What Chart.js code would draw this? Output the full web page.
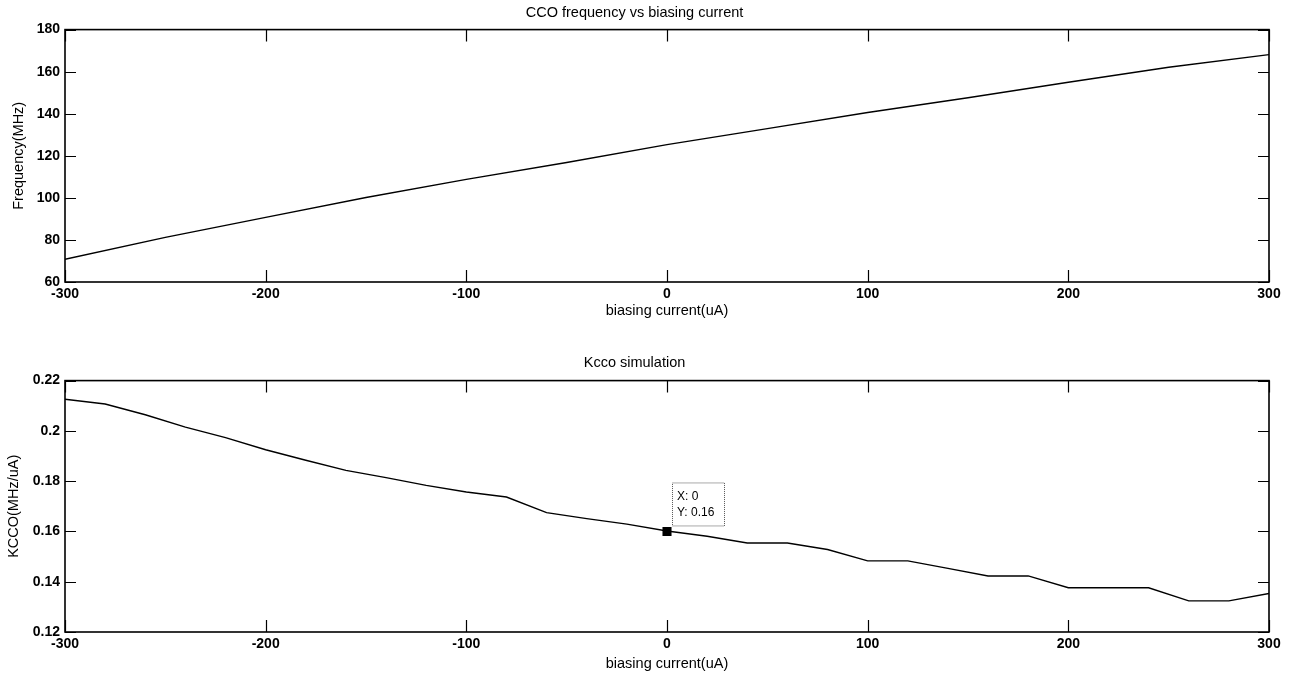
<!DOCTYPE html>
<html>
<head>
<meta charset="utf-8">
<script src="https://cdn.jsdelivr.net/npm/chart.js@4.4.1/dist/chart.umd.min.js"></script>
<style>
  html, body { margin: 0; padding: 0; background: #fff; }
  #top-wrap { position: absolute; left: 0; top: 0; width: 1293px; height: 320px; }
  #bottom-wrap { position: absolute; left: 0; top: 320px; width: 1293px; height: 356px; }
</style>
</head>
<body>
<div id="top-wrap"><canvas id="freq-chart" width="1293" height="320"></canvas></div>
<div id="bottom-wrap"><canvas id="kcco-chart" width="1293" height="356"></canvas></div>
<script>
// biasing current (uA) and CCO frequency (MHz)
const freqCurrent = [-300, -250, -200, -150, -100, -50, 0, 50, 100, 150, 200, 250, 300];
const frequencyMHz = [70.8, 81.2, 90.7, 100.2, 108.8, 116.8, 125.3, 132.9, 140.6, 147.6, 155.0, 162.1, 168.1];

// Kcco simulation (MHz/uA), one point every 20 uA
const kccoCurrent = [-300, -280, -260, -240, -220, -200, -180, -160, -140, -120, -100, -80, -60, -40, -20,
  0, 20, 40, 60, 80, 100, 120, 140, 160, 180, 200, 220, 240, 260, 280, 300];
const kccoValues = [0.2126, 0.2107, 0.2064, 0.2015, 0.1973, 0.1925, 0.1883, 0.1843, 0.1814, 0.1783, 0.1757,
  0.1737, 0.1675, 0.1651, 0.1629, 0.1602, 0.1581, 0.1554, 0.1554, 0.1528, 0.1483, 0.1483, 0.1453, 0.1423,
  0.1423, 0.1376, 0.1376, 0.1376, 0.1324, 0.1324, 0.1353];

// data cursor shown on the lower plot
const datatipX = [0];
const datatipY = [0.16];

// tick labels
const currentTicks = [-300, -200, -100, 0, 100, 200, 300];
const freqTicks = [60, 80, 100, 120, 140, 160, 180];
const kccoTicks = [0.12, 0.14, 0.16, 0.18, 0.2, 0.22];

const FONT = 'Arial, "Liberation Sans", Helvetica, sans-serif';
Chart.defaults.color = '#000';
Chart.defaults.font.family = FONT;
Chart.defaults.font.size = 14;

// MATLAB-like box with inward ticks on all four sides
const matlabAxes = {
  id: 'matlabAxes',
  afterDatasetsDraw(chart) {
    const { ctx, chartArea: a, scales: { x, y } } = chart;
    ctx.save();
    ctx.strokeStyle = '#000';
    ctx.lineWidth = 1.2;
    ctx.beginPath();
    x.ticks.forEach((t) => {
      const px = Math.round(x.getPixelForValue(t.value)) + 0.5;
      ctx.moveTo(px, a.bottom);
      ctx.lineTo(px, a.bottom - 12);
      ctx.moveTo(px, a.top);
      ctx.lineTo(px, a.top + 12);
    });
    y.ticks.forEach((t) => {
      const py = Math.round(y.getPixelForValue(t.value)) + 0.5;
      ctx.moveTo(a.left, py);
      ctx.lineTo(a.left + 11, py);
      ctx.moveTo(a.right, py);
      ctx.lineTo(a.right - 11, py);
    });
    ctx.stroke();
    ctx.lineWidth = 1.6;
    ctx.strokeRect(a.left, a.top, a.right - a.left, a.bottom - a.top);
    ctx.restore();
  }
};

// data tip box next to the marked point
const datatip = {
  id: 'datatip',
  afterDraw(chart) {
    const meta = chart.getDatasetMeta(1);
    if (!meta || !meta.data.length) return;
    const { ctx } = chart;
    const pt = meta.data[0];
    const left = pt.x + 5;
    const top = pt.y - 49;
    ctx.save();
    ctx.fillStyle = '#fff';
    ctx.fillRect(left, top, 52, 43);
    ctx.strokeStyle = '#555';
    ctx.lineWidth = 1;
    ctx.setLineDash([1, 1]);
    ctx.strokeRect(left + 0.5, top + 0.5, 52, 43);
    ctx.setLineDash([]);
    ctx.fillStyle = '#000';
    ctx.font = '12px ' + FONT;
    ctx.textBaseline = 'middle';
    ctx.fillText('X: ' + datatipX[0], left + 5, top + 14);
    ctx.fillText('Y: ' + datatipY[0], left + 5, top + 30);
    ctx.restore();
  }
};

function buildOptions({ title, titlePadding, yLabel, yLabelPad, yMin, yMax, yTicks, xHeight, xTitlePad, fmt }) {
  return {
    responsive: false,
    animation: false,
    layout: { padding: { left: 0, right: 24, top: 0, bottom: 0 } },
    plugins: {
      legend: { display: false },
      tooltip: { enabled: false },
      title: {
        display: true,
        text: title,
        font: { size: 14.5, weight: 'normal' },
        padding: titlePadding
      }
    },
    scales: {
      x: {
        type: 'linear',
        min: -300,
        max: 300,
        afterBuildTicks: (scale) => { scale.ticks = currentTicks.map((v) => ({ value: v })); },
        afterFit: (scale) => { scale.height = xHeight; },
        grid: { display: false, drawTicks: false },
        border: { display: false },
        ticks: { padding: 4, maxRotation: 0, autoSkip: false, font: { size: 14, weight: 'bold' } },
        title: { display: true, text: 'biasing current(uA)', font: { size: 14.5 }, padding: { top: 0, bottom: xTitlePad } }
      },
      y: {
        type: 'linear',
        min: yMin,
        max: yMax,
        afterBuildTicks: (scale) => { scale.ticks = yTicks.map((v) => ({ value: v })); },
        afterFit: (scale) => { scale.width = 65; },
        grid: { display: false, drawTicks: false },
        border: { display: false },
        ticks: { padding: 5, autoSkip: false, font: { size: 14, weight: 'bold' }, callback: fmt },
        title: { display: true, text: yLabel, font: { size: 14.5 }, padding: { top: yLabelPad, bottom: 0 } }
      }
    }
  };
}

const freqChart = new Chart(document.getElementById('freq-chart'), {
  type: 'line',
  data: {
    datasets: [{
      data: freqCurrent.map((c, i) => ({ x: c, y: frequencyMHz[i] })),
      borderColor: '#000',
      borderWidth: 1.4,
      pointRadius: 0,
      tension: 0
    }]
  },
  options: buildOptions({
    title: 'CCO frequency vs biasing current',
    titlePadding: { top: 4.6, bottom: 7.6 },
    yLabel: 'Frequency(MHz)',
    yLabelPad: 10.4,
    yMin: 60,
    yMax: 180,
    yTicks: freqTicks,
    xHeight: 38,
    xTitlePad: 0.6,
    fmt: (v) => String(v)
  }),
  plugins: [matlabAxes]
}); /* eslint-disable-line no-unused-vars */

const kccoChart = new Chart(document.getElementById('kcco-chart'), {
  type: 'line',
  data: {
    datasets: [
      {
        data: kccoCurrent.map((c, i) => ({ x: c, y: kccoValues[i] })),
        borderColor: '#000',
        borderWidth: 1.4,
        pointRadius: 0,
        tension: 0
      },
      {
        data: datatipX.map((c, i) => ({ x: c, y: datatipY[i] })),
        showLine: false,
        pointStyle: 'rect',
        pointRadius: 6.4,
        backgroundColor: '#000',
        borderColor: '#000',
        borderWidth: 0
      }
    ]
  },
  options: buildOptions({
    title: 'Kcco simulation',
    titlePadding: { top: 34.6, bottom: 8.6 },
    yLabel: 'KCCO(MHz/uA)',
    yLabelPad: 5.6,
    yMin: 0.12,
    yMax: 0.22,
    yTicks: kccoTicks,
    xHeight: 44,
    xTitlePad: 3.6,
    fmt: (v) => String(+Number(v).toFixed(2))
  }),
  plugins: [matlabAxes, datatip]
}); /* eslint-disable-line no-unused-vars */
</script>
</body>
</html>
